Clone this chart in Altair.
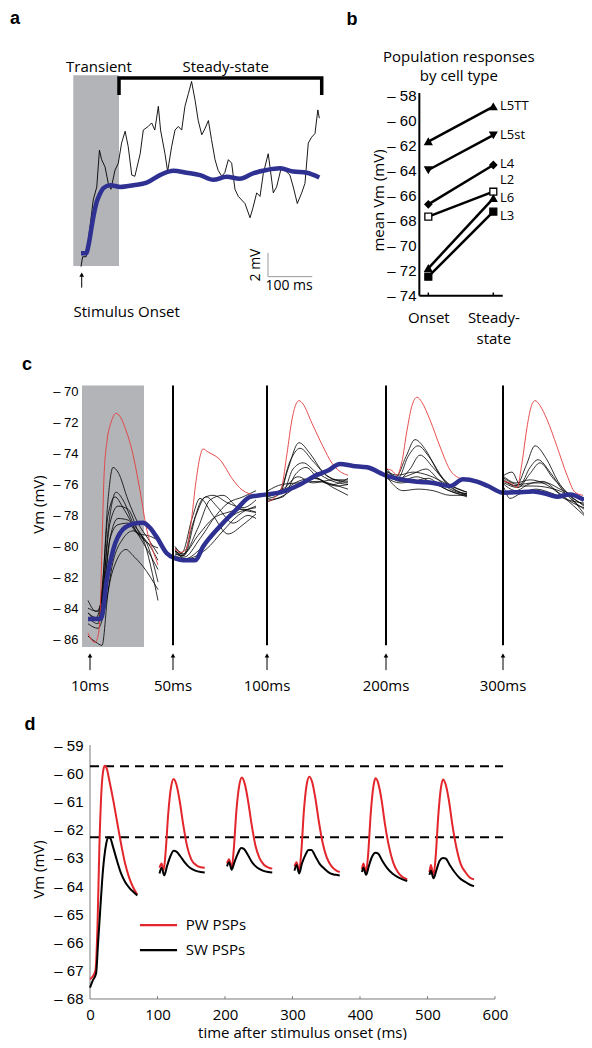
import altair as alt
import pandas as pd

TXT = "Open Sans"
NUM = "Liberation Sans"
BLUE = "#2e3192"
SHADE = "#b3b4b8"
RED_C = "#e43b3b"
RED_D = "#e3262b"

# ---------------- panel a : one cell (black) and population mean (blue) ----------------
a_cell = [(-1.6, -1.13), (2, -0.29), (10, -0.29), (17, 1.69), (26, 4.5), (34, 5.6), (40, 8.7), (45, 7.9),
          (52.6, 7.3), (60, 5.9), (66, 5.4), (75, 7.0), (82.6, 7.6), (90, 9.3), (98, 10.3), (105, 9.0),
          (113, 6.6), (120, 6.5), (132, 8.4), (139, 10.4), (150, 10.7), (158, 11.0), (165, 10.4),
          (173, 12.4), (178, 10.4), (188, 8.4), (194, 6.9), (203, 9.0), (210.6, 10.4), (218, 10.7),
          (225.7, 10.4), (233, 12.4), (241, 13.5), (248, 14.5), (256, 12.9), (263, 11.2), (271, 10.0),
          (278, 10.5), (286, 11.2), (293, 9.6), (301, 7.9), (308, 7.0), (316, 6.5), (323, 6.8),
          (331, 7.9), (338.5, 7.6), (346, 5.4), (353.5, 4.8), (361, 4.5), (368.6, 4.2), (380, 3.0),
          (387, 3.9), (395, 5.1), (402.5, 4.8), (410, 6.75), (421, 8.4), (425, 7.3), (432.5, 5.1),
          (440, 5.6), (451, 7.3), (459, 7.0), (470, 6.6), (477.6, 5.6), (486.7, 4.2), (496.6, 5.1),
          (504, 5.9), (511.5, 9.3), (519, 9.8), (526.6, 10.1), (533, 12.1), (536.4, 11.4)]
a_mean = [(-1.6, 0.0), (10, 0.0), (16, 0.8), (22.5, 2.25), (28, 3.4), (34, 4.35), (41, 5.0), (49, 5.5),
          (64, 5.75), (86.5, 5.6), (116.5, 5.75), (146.7, 5.96), (176.7, 6.6), (206.8, 6.97), (237, 6.8),
          (267, 6.6), (297, 6.2), (327, 6.46), (357, 6.3), (387, 6.75), (417.6, 7.03), (447.6, 7.17),
          (477.6, 6.9), (507.8, 6.8), (536.4, 6.4)]
a_shade = {"t": [-19.0], "t2": [84.2], "v": [-1.07], "v2": [15.02]}
a_bracket = [(84.2, 13.5), (84.2, 14.79), (541.8, 14.79), (541.8, 13.5)]
a_phase_labels = ["Transient", "Steady-state"]
a_phase_t = [39, 325]
a_phase_v = [15.75, 15.75]
a_onset_label = "Stimulus Onset"
a_scalebar = [(420.5, 0.03), (420.5, -1.97), (520.5, -1.97)]

# ---------------- panel b : population responses by cell type ----------------
b_types = ["L5TT", "L5st", "L4", "L2", "L6", "L3"]
b_onset = [-61.72, -63.98, -66.72, -67.7, -71.82, -72.49]
b_steady = [-58.93, -61.19, -63.58, -65.71, -66.24, -67.3]
b_shapes = ["triangle-up", "triangle-down", "diamond", "square", "triangle-up", "square"]
b_fills = ["black", "black", "black", "white", "black", "black"]
b_label_v = [-58.85, -61.19, -63.53, -64.75, -66.2, -67.65]
b_title = ["Population responses", "by cell type"]
b_title_v = [-54.95, -56.5]

# ---------------- panel c : PSP traces at 10, 50, 100, 200, 300 ms ----------------
c_black = [
    # 10 ms window
    [(0, -84.3), (8, -84.6), (14, -83), (20, -77), (25, -74.9), (30, -75.2), (40, -77), (50, -78.5), (60, -79.5), (70, -80.5)],
    [(0, -83.5), (8, -84.2), (14, -83.5), (20, -79), (28, -76.5), (35, -77), (45, -78.5), (55, -79.5), (70, -83.5)],
    [(0, -84.6), (10, -85), (16, -82), (22, -78.5), (30, -77.4), (40, -77.6), (50, -79.0), (60, -80), (70, -82.3)],
    [(0, -84.0), (10, -84.2), (16, -82.5), (22, -79.5), (30, -78.6), (40, -78.5), (50, -79.2), (60, -79.3), (70, -79.6)],
    [(0, -85.8), (8, -86.2), (14, -86.4), (20, -83), (28, -81), (38, -80.2), (45, -80.6), (55, -81.3), (70, -82.8)],
    [(0, -84.3), (10, -84.8), (16, -83), (22, -79.5), (30, -78.2), (40, -78.3), (50, -79.2), (60, -79.8), (70, -80.1)],
    [(0, -85), (10, -85.3), (17, -84), (25, -81), (35, -79.5), (45, -79.0), (55, -79.4), (70, -80.9)],
    [(0, -84.8), (10, -84.7), (15, -82), (20, -78), (27, -76.8), (35, -77.5), (48, -79), (60, -80.3), (70, -81.5)],
    # 50 ms window
    [(87, -80.3), (95, -80.6), (105, -78.5), (115, -76.9), (125, -76.7), (140, -77.2), (155, -77.5), (168, -77.0)],
    [(87, -80.0), (95, -80.5), (110, -78.8), (122, -77.0), (135, -76.7), (150, -77.5), (168, -77.8)],
    [(87, -80.4), (96, -80.7), (112, -79.5), (128, -78.0), (140, -77.2), (155, -76.8), (168, -76.4)],
    [(87, -80.2), (97, -80.8), (115, -80.0), (130, -79.0), (145, -78.0), (160, -77.6), (168, -77.5)],
    [(87, -80.5), (96, -80.6), (108, -78.0), (118, -76.8), (130, -77.5), (145, -78.5), (160, -78.0), (168, -78.2)],
    [(87, -80.1), (94, -80.4), (104, -78.2), (112, -76.9), (125, -78.0), (140, -79.2), (155, -78.6), (168, -77.9)],
    [(87, -80.6), (98, -80.8), (118, -80.2), (135, -79.0), (150, -78.0), (168, -77.4)],
    [(87, -80.3), (95, -80.5), (110, -79.3), (125, -78.2), (140, -77.8), (155, -77.6), (168, -77.8)],
    # 100 ms window
    [(180, -76.9), (192, -76.6), (200, -75.0), (211, -73.3), (222, -74.0), (235, -75.2), (248, -75.7), (260, -75.8)],
    [(180, -76.7), (192, -76.4), (202, -74.5), (212, -73.66), (225, -74.5), (240, -75.5), (260, -75.9)],
    [(180, -76.5), (194, -76.6), (205, -75.0), (215, -74.6), (228, -75.2), (245, -75.8), (260, -76.0)],
    [(180, -77.0), (195, -76.8), (208, -75.3), (218, -74.9), (230, -75.6), (245, -76.0), (260, -75.6)],
    [(180, -76.8), (195, -76.4), (210, -75.8), (225, -75.6), (240, -75.9), (260, -76.3)],
    [(180, -77.1), (196, -76.7), (212, -76.0), (228, -75.6), (245, -76.2), (260, -76.7)],
    [(180, -76.6), (195, -76.3), (210, -75.5), (225, -75.9), (245, -75.7), (260, -75.7)],
    [(180, -76.4), (194, -76.0), (210, -75.9), (230, -75.8), (248, -76.1), (260, -76.0)],
    # 200 ms window
    [(299, -75.0), (308, -75.5), (318, -74.2), (327, -73.1), (338, -73.8), (350, -75.2), (365, -76.3), (379, -76.6)],
    [(299, -75.1), (310, -75.6), (320, -74.2), (330, -73.5), (342, -74.3), (355, -75.6), (379, -76.5)],
    [(299, -75.3), (310, -75.7), (322, -75.0), (332, -74.1), (345, -74.9), (360, -76.0), (379, -76.7)],
    [(299, -75.4), (310, -75.6), (325, -75.3), (338, -75.0), (352, -75.8), (365, -76.4), (379, -76.6)],
    [(299, -75.6), (312, -75.9), (325, -75.8), (340, -75.6), (355, -76.2), (379, -76.8)],
    [(299, -75.5), (305, -76.0), (315, -76.4), (330, -76.3), (345, -76.4), (362, -76.7), (379, -76.7)],
    [(299, -75.2), (310, -75.4), (325, -75.2), (340, -75.4), (360, -76.0), (379, -76.5)],
    [(299, -75.3), (312, -75.8), (328, -75.5), (345, -75.9), (365, -76.5), (379, -76.7)],
    # 300 ms window
    [(416, -75.7), (428, -76.1), (438, -74.8), (447, -73.5), (458, -74.3), (470, -75.8), (485, -76.9), (496, -77.3)],
    [(416, -75.4), (424, -75.2), (432, -76.0), (442, -74.9), (450, -74.4), (462, -75.2), (475, -76.4), (496, -77.6)],
    [(416, -75.9), (430, -76.2), (442, -75.3), (452, -74.6), (465, -75.6), (480, -76.6), (496, -77.9)],
    [(416, -75.6), (430, -76.0), (445, -75.9), (458, -75.9), (472, -76.3), (485, -76.7), (496, -77.0)],
    [(416, -76.0), (428, -76.4), (440, -76.0), (455, -75.8), (470, -76.5), (485, -77.2), (496, -77.5)],
    [(416, -76.2), (422, -76.9), (432, -76.6), (448, -76.3), (465, -76.6), (480, -77.0), (496, -77.2)],
    [(416, -75.5), (428, -75.9), (442, -75.7), (458, -76.0), (475, -76.8), (496, -78.0)],
    [(416, -75.8), (430, -76.1), (445, -76.1), (460, -76.2), (478, -76.6), (496, -77.4)],
]
c_red = [
    [(0, -85.6), (3, -86.0), (7, -86.2), (10, -85.8), (12, -84.5), (14, -80), (16, -75.5), (19, -73.2), (23, -72.0),
     (28, -71.4), (32, -71.6), (38, -72.5), (44, -73.8), (52, -76.4), (59, -79.0), (65, -80.3), (70, -81.2)],
    [(87, -80.1), (92, -80.4), (98, -80.2), (103, -78.5), (108, -75.8), (112, -74.2), (115, -73.7), (120, -73.9),
     (132, -74.4), (145, -75.7), (154, -76.35), (168, -76.7)],
    [(180, -77.1), (190, -76.6), (194, -76.1), (199, -74.0), (204, -71.8), (208, -70.8), (211, -70.58), (215, -70.8),
     (224, -72.05), (235, -73.55), (244, -74.63), (255, -75.28), (260, -75.4)],
    [(299, -75.0), (304, -75.1), (309, -75.4), (314, -74.5), (319, -72.5), (324, -70.9), (329, -70.36), (334, -70.7),
     (342, -71.83), (352, -73.55), (362, -75.06), (372, -75.6), (379, -75.7)],
    [(416, -75.8), (422, -75.9), (429, -76.2), (434, -74.6), (439, -72.3), (443, -71.0), (447, -70.58), (452, -70.9),
     (459, -71.8), (469, -73.55), (479, -75.4), (487, -76.5), (495, -76.7)],
]
c_mean = [(0, -84.7), (12, -84.7), (14, -84.5), (18.7, -82.2), (25.3, -80.2), (35, -78.9), (45, -78.55), (55, -78.47),
          (62, -78.8), (68.7, -79.4), (78.7, -80.45), (88, -80.8), (95.3, -80.9), (107, -80.9), (115.3, -80.0),
          (132, -78.7), (148.7, -77.6), (162, -76.8), (172, -76.7), (195, -76.46), (212, -76.0), (229, -75.38),
          (240, -75.1), (252, -74.67), (265, -74.8), (279, -74.89), (299, -75.45), (315, -75.7), (329, -75.82),
          (345, -75.9), (362, -76.1), (375, -75.67), (389, -75.82), (400, -76.1), (415, -76.53), (430, -76.5),
          (445, -76.46), (458, -76.6), (469, -76.79), (482, -76.64), (496, -77.0)]
c_shade = {"t": [-6.0], "t2": [56.0], "v": [-69.6], "v2": [-86.5]}
c_dividers = [85, 179, 298, 415]
c_arrow_t = [2, 85, 179, 298, 415]
c_arrow_labels = ["10ms", "50ms", "100ms", "200ms", "300ms"]

# ---------------- panel d : model PW / SW PSPs ----------------
d_red = [
    [(0, -67.3), (4, -67.2), (8, -67.0), (11, -65.5), (14, -62.5), (17, -60.6), (20, -59.85), (22, -59.73), (25, -59.85),
     (29, -60.3), (34, -60.9), (40, -61.7), (46, -62.5), (52, -63.2), (58, -63.7), (64, -64.05), (70, -64.3)],
    [(103, -63.35), (106, -63.2), (109, -63.45), (112, -62.8), (116, -61.4), (120, -60.5), (124, -60.2), (128, -60.4),
     (133, -61.0), (138, -61.8), (144, -62.6), (150, -63.05), (157, -63.25), (164, -63.33), (170, -63.35)],
    [(203, -63.2), (206, -63.05), (210, -63.35), (213, -62.7), (217, -61.3), (221, -60.45), (225, -60.15), (229, -60.35),
     (234, -60.95), (239, -61.75), (245, -62.55), (251, -63.0), (258, -63.25), (265, -63.35), (270, -63.38)],
    [(303, -63.3), (306, -63.15), (310, -63.45), (313, -62.8), (317, -61.3), (321, -60.4), (325, -60.12), (329, -60.3),
     (334, -60.9), (339, -61.7), (345, -62.5), (351, -63.0), (358, -63.3), (365, -63.45), (370, -63.5)],
    [(403, -63.4), (405, -63.2), (409, -63.5), (412, -62.9), (416, -61.4), (420, -60.45), (423, -60.18), (427, -60.35),
     (432, -60.95), (437, -61.8), (443, -62.6), (449, -63.15), (456, -63.5), (463, -63.68), (470, -63.76)],
    [(503, -63.5), (505, -63.25), (509, -63.6), (512, -63.0), (516, -61.5), (520, -60.5), (523, -60.22), (527, -60.4),
     (532, -61.0), (537, -61.85), (543, -62.65), (549, -63.2), (556, -63.5), (563, -63.7), (569, -63.76)],
]
d_black = [
    [(0, -67.6), (4, -67.35), (9, -67.1), (12, -66.0), (15, -64.9), (18, -63.8), (21, -63.0), (24, -62.5), (27, -62.27),
     (30, -62.3), (34, -62.6), (40, -63.1), (46, -63.55), (52, -63.85), (58, -64.05), (64, -64.2), (70, -64.33)],
    [(103, -63.55), (106, -63.35), (110, -63.62), (114, -63.3), (119, -62.95), (124, -62.75), (128, -62.78),
     (134, -62.95), (140, -63.15), (148, -63.35), (156, -63.45), (164, -63.5), (170, -63.52)],
    [(203, -63.3), (206, -63.15), (210, -63.42), (214, -63.15), (219, -62.85), (224, -62.65), (228, -62.68),
     (234, -62.9), (240, -63.15), (248, -63.35), (256, -63.45), (264, -63.5), (270, -63.52)],
    [(303, -63.45), (306, -63.25), (310, -63.55), (314, -63.2), (319, -62.9), (324, -62.72), (328, -62.72),
     (334, -62.95), (340, -63.2), (348, -63.4), (356, -63.55), (364, -63.6), (370, -63.62)],
    [(403, -63.5), (405, -63.35), (409, -63.6), (413, -63.3), (418, -62.95), (423, -62.82), (427, -62.85),
     (433, -63.1), (440, -63.35), (448, -63.55), (456, -63.68), (463, -63.76), (470, -63.82)],
    [(503, -63.6), (505, -63.45), (509, -63.72), (513, -63.45), (518, -63.1), (523, -63.0), (527, -63.02),
     (533, -63.25), (540, -63.5), (548, -63.72), (556, -63.85), (563, -63.95), (569, -64.0)],
]
d_peaks = [-59.75, -62.27]
d_legend_names = ["PW PSPs", "SW PSPs"]
d_legend_colors = [RED_D, "black"]
d_legend_v = [-65.38, -66.27]
d_xticks = [0, 100, 200, 300, 400, 500, 600]
d_yticks = [-59, -60, -61, -62, -63, -64, -65, -66, -67, -68]


# ---------------- helpers ----------------
def pts(pairs):
    return pd.DataFrame(pairs, columns=["t", "v"]).assign(i=range(len(pairs)))


def traces(lst):
    frames = [pts(p).assign(trace=k) for k, p in enumerate(lst)]
    return pd.concat(frames, ignore_index=True)


def letter(ch, x, y):
    return alt.Chart(pd.DataFrame({"k": [ch]})).mark_text(
        font=NUM, fontSize=18, fontWeight="bold", align="center", baseline="middle", color="black"
    ).encode(x=alt.value(x), y=alt.value(y), text="k:N")


MINUS = "'\u2013 ' + abs(datum.value)"

# The whole figure is one 576 x 1032 view; every panel has its own (independent) scales.

# ======================= panel a =======================
ax_sc = alt.Scale(domain=[-166.4, 1133.9], nice=False, zero=False)
ay_sc = alt.Scale(domain=[-66.39, 20.7], nice=False, zero=False)
AX = alt.X("t:Q", scale=ax_sc, axis=None)
AY = alt.Y("v:Q", scale=ay_sc, axis=None)

a_layers = [
    alt.Chart(pd.DataFrame(a_shade)).mark_rect(color=SHADE).encode(x=AX, x2="t2:Q", y=AY, y2="v2:Q"),
    alt.Chart(pts(a_cell)).mark_line(color="black", strokeWidth=0.9).encode(x=AX, y=AY, order="i:Q"),
    alt.Chart(pts(a_mean)).mark_line(color=BLUE, strokeWidth=4.5, interpolate="monotone").encode(x=AX, y=AY, order="i:Q"),
    alt.Chart(pts(a_bracket)).mark_line(color="black", strokeWidth=3.5, strokeCap="square").encode(x=AX, y=AY, order="i:Q"),
    alt.Chart(pd.DataFrame({"t": a_phase_t, "v": a_phase_v, "lab": a_phase_labels})).mark_text(
        font=TXT, fontSize=15, baseline="middle", color="black").encode(x=AX, y=AY, text="lab:N"),
    alt.Chart(pd.DataFrame({"t": [0], "v": [-2.9], "v2": [-1.75]})).mark_rule(color="black", strokeWidth=1).encode(
        x=AX, y=AY, y2="v2:Q"),
    alt.Chart(pd.DataFrame({"t": [0], "v": [-1.8]})).mark_point(
        shape="triangle-up", filled=True, color="black", size=22, opacity=1).encode(x=AX, y=AY),
    alt.Chart(pd.DataFrame({"t": [101.5], "v": [-4.93], "lab": [a_onset_label]})).mark_text(
        font=TXT, fontSize=15, baseline="middle", color="black").encode(x=AX, y=AY, text="lab:N"),
    alt.Chart(pts(a_scalebar)).mark_line(color="#9a9a9a", strokeWidth=1).encode(x=AX, y=AY, order="i:Q"),
    alt.Chart(pd.DataFrame({"t": [393.5], "v": [-0.99], "lab": ["2 mV"]})).mark_text(
        font=TXT, fontSize=14, angle=270, baseline="middle", color="black").encode(x=AX, y=AY, text="lab:N"),
    alt.Chart(pd.DataFrame({"t": [468], "v": [-2.75], "lab": ["100 ms"]})).mark_text(
        font=TXT, fontSize=14, baseline="middle", color="black").encode(x=AX, y=AY, text="lab:N"),
    letter("a", 7, 11),
]
layer_a = alt.layer(*a_layers)

# ======================= panel b =======================
bx_sc = alt.Scale(domain=[-5.466, 3.395], nice=False, zero=False)
by_sc = alt.Scale(domain=[-133.36, -51.06], nice=False, zero=False)
BX = alt.X("x:Q", scale=bx_sc, axis=alt.Axis(
    orient="bottom", values=[1, 2], offset=-744, domain=False, ticks=False, tickSize=0, grid=False, title=None,
    labelExpr="datum.value == 1 ? 'Onset' : ['Steady-', 'state']", labelFont=TXT, labelFontSize=15,
    labelPadding=14, labelLineHeight=21, labelOverlap=False, labelColor="black", labelBaseline="top"))
BY = alt.Y("v:Q", scale=by_sc, axis=alt.Axis(
    orient="left", values=list(range(-58, -75, -2)), offset=-411, domain=False, ticks=False, tickSize=0, grid=False,
    labelExpr=MINUS, labelFont=NUM, labelFontSize=15, labelPadding=3, labelColor="black",
    title="mean Vm (mV)", titleFont=TXT, titleFontSize=15, titleFontWeight="normal", titleColor="black",
    titleAngle=270, titleX=-41, titleY=192, titleAlign="center", titleBaseline="middle"))

b_lines = pd.DataFrame({
    "type": b_types * 2,
    "x": [1] * len(b_types) + [2] * len(b_types),
    "v": b_onset + b_steady,
    "shape": b_shapes * 2,
    "fill": b_fills * 2,
})
b_layers = [
    alt.Chart(pd.DataFrame({"x": [0.862], "v": [-57.84], "v2": [-74.0]})).mark_rule(
        color="black", strokeWidth=2).encode(x=BX, y=BY, y2="v2:Q"),
    alt.Chart(pd.DataFrame({"x": [0.862], "x2": [2.145], "v": [-74.0]})).mark_rule(
        color="black", strokeWidth=2).encode(x=BX, x2="x2:Q", y=BY),
    alt.Chart(pd.DataFrame({"x": [1, 2], "v": [-74.0, -74.0], "v2": [-73.75, -73.75]})).mark_rule(
        color="black", strokeWidth=1.5).encode(x=BX, y=BY, y2="v2:Q"),
    alt.Chart(b_lines).mark_line(color="black", strokeWidth=2.5).encode(x=BX, y=BY, detail="type:N"),
    alt.Chart(b_lines).mark_point(filled=True, stroke="black", strokeWidth=1.3, size=48, opacity=1).encode(
        x=BX, y=BY, shape=alt.Shape("shape:N", scale=None), fill=alt.Fill("fill:N", scale=None)),
    alt.Chart(pd.DataFrame({"x": [2.103] * len(b_types), "v": b_label_v, "lab": b_types})).mark_text(
        font=TXT, fontSize=13, align="left", baseline="middle", color="black").encode(
        x=BX, y=BY, text="lab:N"),
    alt.Chart(pd.DataFrame({"x": [1.47, 1.47], "v": b_title_v, "lab": b_title})).mark_text(
        font=TXT, fontSize=15, align="center", baseline="middle", color="black").encode(
        x=BX, y=BY, text="lab:N"),
    letter("b", 344, 12),
]
layer_b = alt.layer(*b_layers)

# ======================= panel c =======================
cx_sc = alt.Scale(domain=[-80, 496], nice=False, zero=False)
cy_sc = alt.Scale(domain=[-111.91, -45.20], nice=False, zero=False)
CX = alt.X("t:Q", scale=cx_sc, axis=None)
CY = alt.Y("v:Q", scale=cy_sc, axis=alt.Axis(
    orient="left", values=list(range(-70, -87, -2)), offset=-74, domain=False, ticks=False, tickSize=0, grid=False,
    labelExpr=MINUS, labelFont=NUM, labelFontSize=13, labelPadding=4, labelColor="black",
    title="Vm (mV)", titleFont=TXT, titleFontSize=15, titleFontWeight="normal", titleColor="black",
    titleAngle=270, titleX=-44, titleY=496, titleAlign="center", titleBaseline="middle"))

c_layers = [
    alt.Chart(pd.DataFrame(c_shade)).mark_rect(color=SHADE).encode(x=CX, x2="t2:Q", y=CY, y2="v2:Q"),
    alt.Chart(traces(c_black)).mark_line(color="black", strokeWidth=0.8, interpolate="monotone").encode(
        x=CX, y=CY, detail="trace:N", order="i:Q"),
    alt.Chart(traces(c_red)).mark_line(color=RED_C, strokeWidth=0.9, interpolate="monotone").encode(
        x=CX, y=CY, detail="trace:N", order="i:Q"),
    alt.Chart(pts(c_mean)).mark_line(color=BLUE, strokeWidth=4.5, interpolate="monotone").encode(
        x=CX, y=CY, order="i:Q"),
    alt.Chart(pd.DataFrame({"t": c_dividers, "v": [-69.6] * 4, "v2": [-86.4] * 4})).mark_rule(
        color="black", strokeWidth=2).encode(x=CX, y=CY, y2="v2:Q"),
    alt.Chart(pd.DataFrame({"t": c_arrow_t, "v": [-88.0] * 5, "v2": [-87.0] * 5})).mark_rule(
        color="black", strokeWidth=1).encode(x=CX, y=CY, y2="v2:Q"),
    alt.Chart(pd.DataFrame({"t": c_arrow_t, "v": [-87.05] * 5})).mark_point(
        shape="triangle-up", filled=True, color="black", size=22, opacity=1).encode(x=CX, y=CY),
    alt.Chart(pd.DataFrame({"t": c_arrow_t, "v": [-89.02] * 5, "lab": c_arrow_labels})).mark_text(
        font=TXT, fontSize=15, baseline="middle", color="black").encode(x=CX, y=CY, text="lab:N"),
    letter("c", 19, 357),
]
layer_c = alt.layer(*c_layers)

# ======================= panel d =======================
dx_sc = alt.Scale(domain=[-121.5, 731.9], nice=False, zero=False)
dy_sc = alt.Scale(domain=[-69.453, -32.88], nice=False, zero=False)
DX = alt.X("t:Q", scale=dx_sc, axis=alt.Axis(
    orient="bottom", values=d_xticks, offset=-41, domain=False, ticks=False, tickSize=0, grid=False,
    labelFont=TXT, labelFontSize=15, labelPadding=8, labelColor="black",
    title="time after stimulus onset (ms)", titleFont=TXT, titleFontSize=15, titleFontWeight="normal",
    titleColor="black", titleX=294, titleY=33, titleAlign="center", titleBaseline="middle"))
DY = alt.Y("v:Q", scale=dy_sc, axis=alt.Axis(
    orient="left", values=d_yticks, offset=-82, domain=False, ticks=False, tickSize=0, grid=False,
    labelExpr=MINUS, labelFont=NUM, labelFontSize=15, labelPadding=7, labelColor="black",
    title="Vm (mV)", titleFont=TXT, titleFontSize=15, titleFontWeight="normal", titleColor="black",
    titleAngle=270, titleX=-52, titleY=861, titleAlign="center", titleBaseline="middle"))

d_layers = [
    alt.Chart(pd.DataFrame({"t": [0], "v": [-59.0], "v2": [-68.0]})).mark_rule(
        color="#7a7a7a", strokeWidth=1).encode(x=DX, y=DY, y2="v2:Q"),
    alt.Chart(pd.DataFrame({"t": [0], "t2": [600], "v": [-68.0]})).mark_rule(
        color="#7a7a7a", strokeWidth=1).encode(x=DX, x2="t2:Q", y=DY),
    alt.Chart(pd.DataFrame({"t": d_xticks[1:], "v": [-68.0] * 6, "v2": [-67.9] * 6})).mark_rule(
        color="#7a7a7a", strokeWidth=1).encode(x=DX, y=DY, y2="v2:Q"),
    alt.Chart(pd.DataFrame({"t": [0, 0], "t2": [612, 612], "v": d_peaks})).mark_rule(
        color="black", strokeWidth=2, strokeDash=[9, 6]).encode(x=DX, x2="t2:Q", y=DY),
    alt.Chart(traces(d_red)).mark_line(color=RED_D, strokeWidth=2, interpolate="monotone").encode(
        x=DX, y=DY, detail="trace:N", order="i:Q"),
    alt.Chart(traces(d_black)).mark_line(color="black", strokeWidth=2, interpolate="monotone").encode(
        x=DX, y=DY, detail="trace:N", order="i:Q"),
    alt.Chart(pd.DataFrame({"t": [74, 74], "t2": [129, 129], "v": d_legend_v, "c": d_legend_colors})).mark_rule(
        strokeWidth=2.2).encode(x=DX, x2="t2:Q", y=DY, color=alt.Color("c:N", scale=None)),
    alt.Chart(pd.DataFrame({"t": [142, 142], "v": d_legend_v, "lab": d_legend_names})).mark_text(
        font=TXT, fontSize=15, align="left", baseline="middle", color="black").encode(
        x=DX, y=DY, text="lab:N"),
    letter("d", 22, 717),
]
layer_d = alt.layer(*d_layers)

chart = alt.layer(layer_a, layer_b, layer_c, layer_d).resolve_scale(
    x="independent", y="independent"
).resolve_axis(
    x="independent", y="independent"
).properties(
    width=576, height=1032, padding=0, background="white",
    autosize=alt.AutoSizeParams(type="none"),
).configure_view(stroke=None)

chart.save("out.html", embed_options={"renderer": "svg", "actions": False})
